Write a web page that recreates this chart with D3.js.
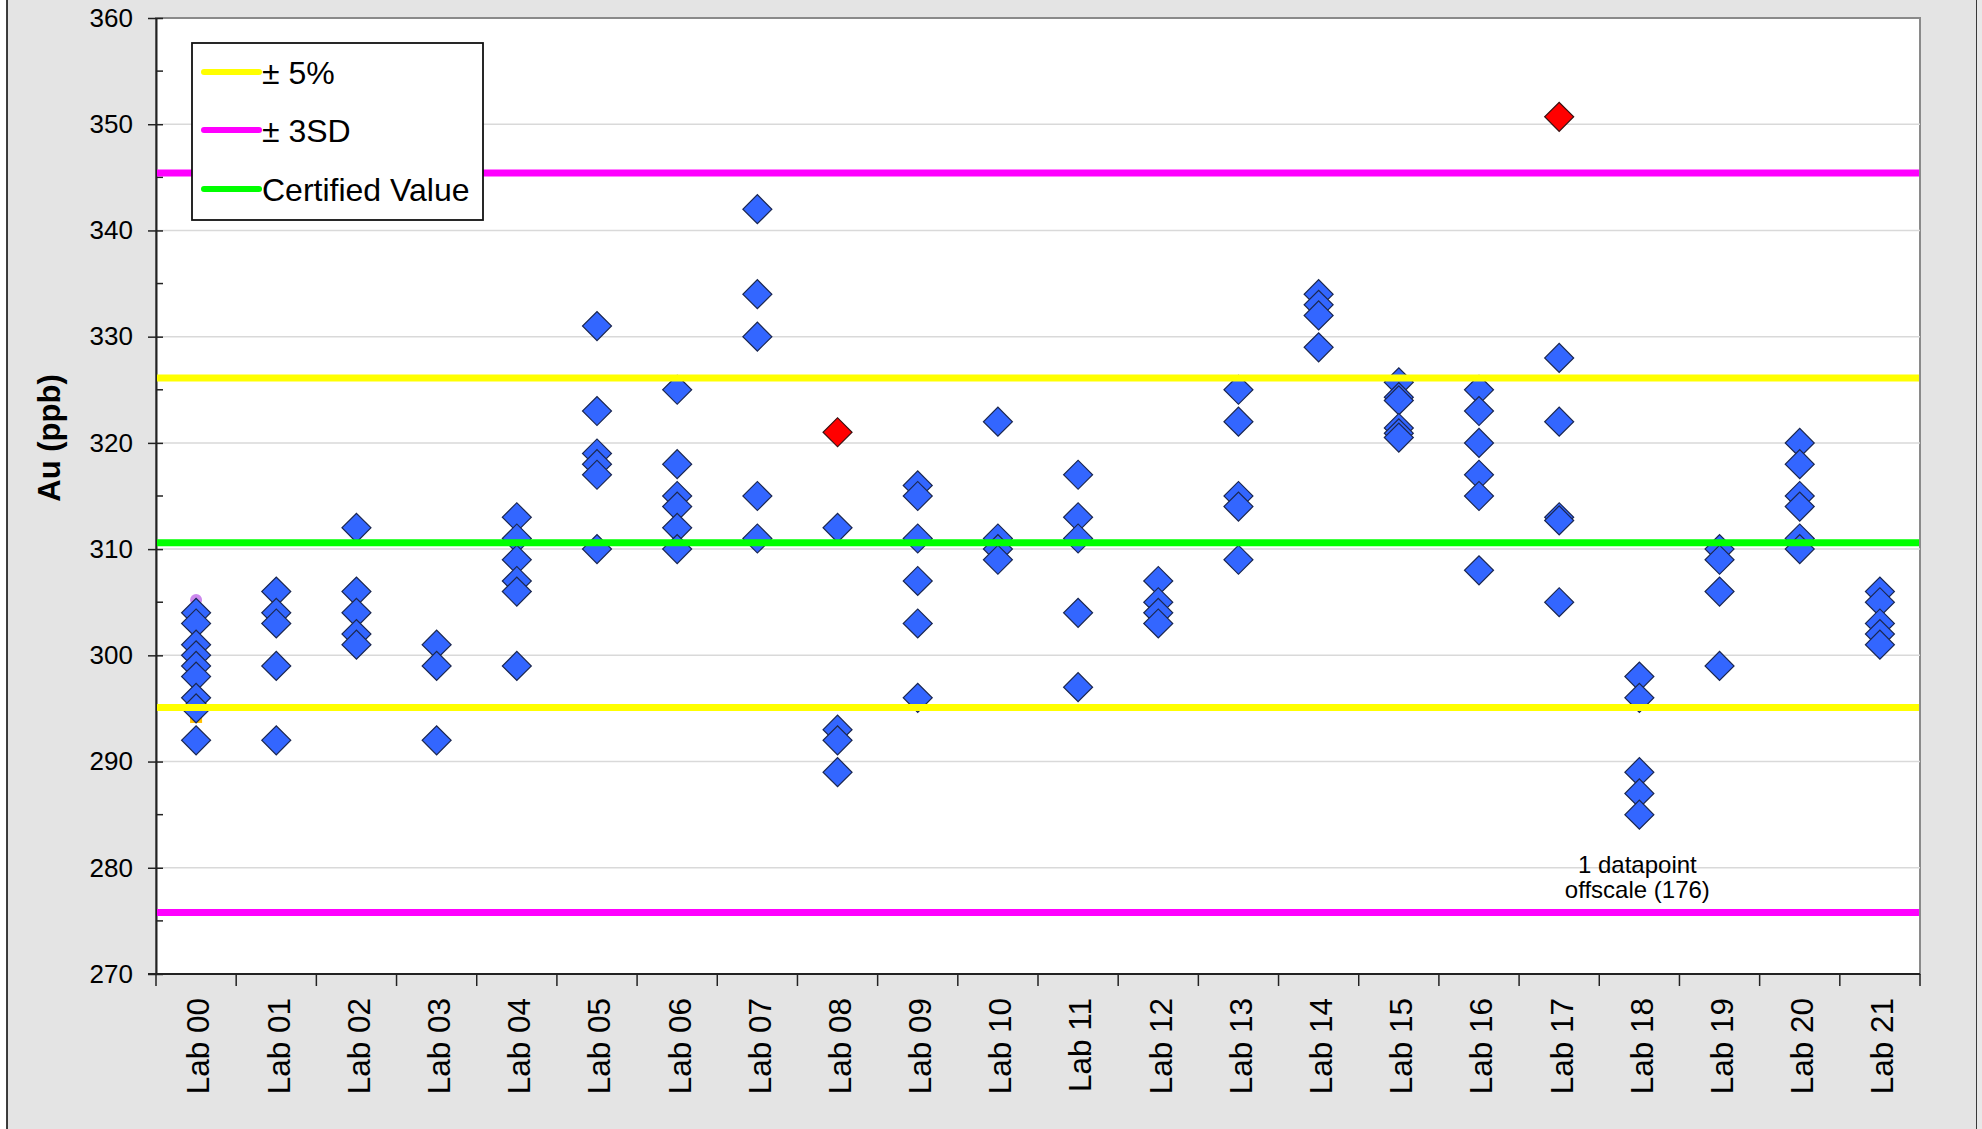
<!DOCTYPE html>
<html>
<head>
<meta charset="utf-8">
<script src="https://cdn.jsdelivr.net/npm/d3@7"></script>
<style>
  html, body { margin: 0; padding: 0; background: #ffffff; }
  svg { display: block; }
  text { font-family: "Liberation Sans", Arial, sans-serif; fill: #000; }
</style>
</head>
<body>
<svg id="chart" width="1982" height="1129"></svg>
<script>
// ---------- data ----------
const labs = ["Lab 00","Lab 01","Lab 02","Lab 03","Lab 04","Lab 05","Lab 06","Lab 07","Lab 08","Lab 09","Lab 10",
              "Lab 11","Lab 12","Lab 13","Lab 14","Lab 15","Lab 16","Lab 17","Lab 18","Lab 19","Lab 20","Lab 21"];
const labResults = [
  [304, 303, 301, 300, 299, 298, 296, 295, 292],
  [306, 304, 303, 299, 292],
  [312, 306, 304, 302, 301],
  [301, 299, 292],
  [313, 311, 309, 307, 306, 299],
  [331, 323, 319, 318, 317, 310],
  [325, 318, 315, 314, 312, 310],
  [342, 334, 330, 315, 311],
  [312, 293, 292, 289],
  [316, 315, 311, 307, 303, 296],
  [322, 311, 310, 309],
  [317, 313, 311, 304, 297],
  [307, 305, 304, 303],
  [325, 322, 315, 314, 309],
  [334, 333, 332, 329],
  [325.7, 324.3, 324.0, 321.4, 320.9, 320.5],
  [325, 323, 320, 317, 315, 308],
  [328, 322, 313, 312.7, 305],
  [298, 296, 289, 287, 285],
  [310, 309, 306, 299],
  [320, 318, 315, 314, 311, 310],
  [306, 305, 303, 302, 301]
];
const outlierLabs = ["Lab 08", "Lab 17"];
const outlierValues = [321, 350.7];
const labMeanMarkerLab = ["Lab 00"];
const labMeanCircle = [305.2];
const labMeanSquare = [294.2];

const refLineNames = ["+3SD", "+5%", "Certified", "-5%", "-3SD"];
const refLineValues = [345.4, 326.1, 310.6, 295.1, 275.8];
const refLineColors = ["#ff00ff", "#ffff00", "#00ff00", "#ffff00", "#ff00ff"];

const legendLabels = ["± 5%", "± 3SD", "Certified Value"];
const legendColors = ["#ffff00", "#ff00ff", "#00ff00"];

const yTicks = [270, 280, 290, 300, 310, 320, 330, 340, 350, 360];
const yMinorTicks = [275, 285, 295, 305, 315, 325, 335, 345, 355];
const yTitle = "Au (ppb)";
const noteLines = ["1 datapoint", "offscale (176)"];
const noteLab = "Lab 18";

// ---------- layout ----------
const W = 1982, H = 1129;
const plot = { left: 156, right: 1920, top: 18, bottom: 974 };
const svg = d3.select("#chart");

// background + frame
svg.append("rect").attr("x", 7).attr("y", -5).attr("width", 1970).attr("height", H + 10)
  .attr("fill", "#e4e4e4").attr("stroke", "#000").attr("stroke-width", 1.5);
svg.append("rect").attr("x", 1977).attr("y", 0).attr("width", 5).attr("height", H).attr("fill", "#e8e8e8");

const x = d3.scaleBand().domain(labs).range([plot.left, plot.right]).padding(0);
const y = d3.scaleLinear().domain([270, 360]).range([plot.bottom, plot.top]);

// plot area
svg.append("rect").attr("x", plot.left).attr("y", plot.top)
  .attr("width", plot.right - plot.left).attr("height", plot.bottom - plot.top)
  .attr("fill", "#fff").attr("stroke", "#8a8a8a").attr("stroke-width", 2);

// gridlines
svg.append("g").selectAll("line").data(yTicks.slice(1, -1)).join("line")
  .attr("x1", plot.left).attr("x2", plot.right)
  .attr("y1", d => y(d)).attr("y2", d => y(d))
  .attr("stroke", "#d9d9d9").attr("stroke-width", 1.5);

// y axis
const yAxis = svg.append("g").attr("transform", `translate(${plot.left},0)`)
  .call(d3.axisLeft(y).tickValues(yTicks).tickSize(8).tickSizeOuter(0).tickPadding(14));
yAxis.select(".domain").attr("stroke", "#222").attr("stroke-width", 2);
yAxis.selectAll(".tick line").attr("stroke", "#222").attr("stroke-width", 1.5).attr("x2", -8).attr("x1", 7);
yAxis.selectAll(".tick text").attr("font-size", 26).attr("fill", "#111")
  .attr("font-family", "'Liberation Sans', Arial, sans-serif").attr("x", -23);
svg.append("g").selectAll("line").data(yMinorTicks).join("line")
  .attr("x1", plot.left).attr("x2", plot.left + 7)
  .attr("y1", d => y(d)).attr("y2", d => y(d))
  .attr("stroke", "#222").attr("stroke-width", 1.5);

// x axis (category boundaries as ticks)
const xAxisG = svg.append("g").attr("transform", `translate(0,${plot.bottom})`);
xAxisG.append("line").attr("x1", plot.left - 8).attr("x2", plot.right)
  .attr("y1", 0).attr("y2", 0).attr("stroke", "#222").attr("stroke-width", 2);
const boundaries = labs.map(l => x(l)).concat([x(labs[labs.length - 1]) + x.bandwidth()]);
xAxisG.selectAll("line.tk").data(boundaries).join("line").attr("class", "tk")
  .attr("x1", d => d).attr("x2", d => d).attr("y1", 0).attr("y2", 12)
  .attr("stroke", "#222").attr("stroke-width", 1.5);
xAxisG.selectAll("text").data(labs).join("text")
  .attr("transform", d => `translate(${x(d) + x.bandwidth() / 2 + 2},24) rotate(-90)`)
  .attr("text-anchor", "end").attr("dy", "0.36em")
  .attr("font-size", 31.5).text(d => d);

// y title
svg.append("text").attr("transform", "translate(49,438) rotate(-90)")
  .attr("text-anchor", "middle").attr("dy", "0.36em")
  .attr("font-size", 31).attr("font-weight", "bold").text(yTitle);

// hidden lab-mean markers
svg.append("g").selectAll("rect").data(labMeanSquare).join("rect")
  .attr("x", (d, i) => x(labMeanMarkerLab[i]) + x.bandwidth() / 2 - 6)
  .attr("y", d => y(d) - 6).attr("width", 12).attr("height", 12).attr("fill", "#ffc000");
svg.append("g").selectAll("circle").data(labMeanCircle).join("circle")
  .attr("cx", (d, i) => x(labMeanMarkerLab[i]) + x.bandwidth() / 2)
  .attr("cy", d => y(d)).attr("r", 6).attr("fill", "#cc88ee");

// diamonds
const diamond = d3.symbol().type(d3.symbolSquare).size(420);
const pts = [];
labs.forEach((lab, i) => labResults[i].forEach(v => pts.push({ lab, v })));
svg.append("g").selectAll("path").data(pts).join("path")
  .attr("d", diamond)
  .attr("transform", d => `translate(${x(d.lab) + x.bandwidth() / 2},${y(d.v)}) rotate(45)`)
  .attr("fill", "#3366ff").attr("stroke", "#1b2750").attr("stroke-width", 1.2);
svg.append("g").selectAll("path").data(outlierValues).join("path")
  .attr("d", diamond)
  .attr("transform", (d, i) => `translate(${x(outlierLabs[i]) + x.bandwidth() / 2},${y(d)}) rotate(45)`)
  .attr("fill", "#ff0000").attr("stroke", "#3a1010").attr("stroke-width", 1.2);

// reference lines
svg.append("g").selectAll("line").data(refLineValues).join("line")
  .attr("x1", plot.left + 1).attr("x2", plot.right - 1)
  .attr("y1", d => y(d)).attr("y2", d => y(d))
  .attr("stroke", (d, i) => refLineColors[i]).attr("stroke-width", 7);

// note
svg.append("g").selectAll("text").data(noteLines).join("text")
  .attr("x", x(noteLab) + x.bandwidth() / 2 - 2)
  .attr("y", (d, i) => 873 + i * 25)
  .attr("text-anchor", "middle").attr("font-size", 24).attr("fill", "#111").text(d => d);

// legend
const lg = svg.append("g");
lg.append("rect").attr("x", 192).attr("y", 43).attr("width", 291).attr("height", 177)
  .attr("fill", "#fff").attr("stroke", "#111").attr("stroke-width", 1.8);
const rowY = [72, 130, 189];
lg.selectAll("line").data(legendLabels).join("line")
  .attr("x1", 204).attr("x2", 259)
  .attr("y1", (d, i) => rowY[i]).attr("y2", (d, i) => rowY[i])
  .attr("stroke", (d, i) => legendColors[i]).attr("stroke-width", 6).attr("stroke-linecap", "round");
lg.selectAll("text").data(legendLabels).join("text")
  .attr("x", 262).attr("y", (d, i) => rowY[i]).attr("dy", "0.36em")
  .attr("font-size", 32).attr("fill", "#111").text(d => d);
</script>
</body>
</html>
